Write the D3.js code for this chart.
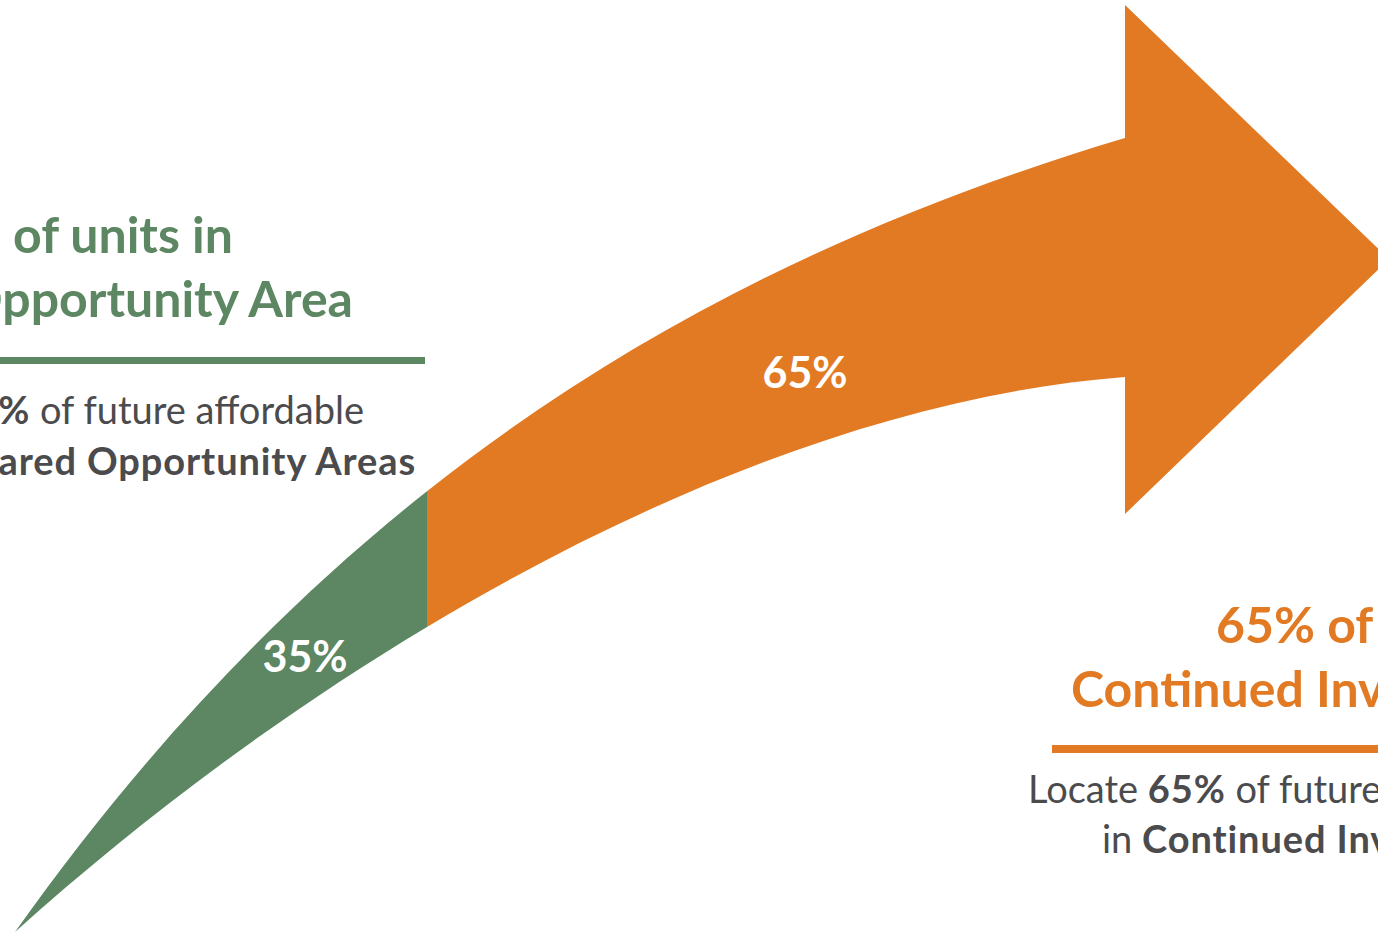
<!DOCTYPE html>
<html>
<head>
<meta charset="utf-8">
<script src="https://cdn.jsdelivr.net/npm/d3@7"></script>
<style>
  html, body { margin: 0; padding: 0; background: #ffffff; overflow: hidden; }
  svg { display: block; }
  text { font-family: Lato, "Open Sans", sans-serif; }
</style>
</head>
<body>
<svg id="chart" width="1378" height="934"></svg>
<script>
// ---- data ----
const categories = ["Shared Opportunity Area", "Continued Investment Area"];
const shares = [35, 65];
const shareLabels = ["35%", "65%"];
const titleLine1 = ["35% of units in", "65% of units in"];
const bodyBold2 = ["Shared Opportunity Areas", "Continued Investment Areas"];
const colors = ["#5C8762", "#E27A24"];

// ---- shape geometry (decorative arrow outline, cubic Bezier edges) ----
const topEdge = [[15,932],[330,488],[700,265],[1125,138]];
const bottomEdge = [[15,932],[340,640],[760,405],[1125,377]];
const head = { baseX: 1125, top: 5, bottom: 514, tipX: 1389, tipY: 259 };

const svg = d3.select("#chart");
const W = 1378, H = 934;

// cumulative share -> position along the arrow (split point)
const xShare = d3.scaleLinear().domain([0, shares[0], 100]).range([15, 427, head.tipX]);
const splitX = xShare(shares[0]);

const p = d3.path();
p.moveTo(...topEdge[0]);
p.bezierCurveTo(...topEdge[1], ...topEdge[2], ...topEdge[3]);
p.lineTo(head.baseX, head.top);
p.lineTo(head.tipX, head.tipY);
p.lineTo(head.baseX, head.bottom);
p.lineTo(...bottomEdge[3]);
p.bezierCurveTo(...bottomEdge[2], ...bottomEdge[1], ...bottomEdge[0]);
p.closePath();
const arrowD = p.toString();

const defs = svg.append("defs");
defs.append("clipPath").attr("id", "clipA").append("rect")
  .attr("x", 0).attr("y", 0).attr("width", splitX).attr("height", H);
defs.append("clipPath").attr("id", "clipB").append("rect")
  .attr("x", splitX).attr("y", 0).attr("width", W - splitX + 50).attr("height", H);

svg.append("path").attr("d", arrowD).attr("fill", colors[1]).attr("clip-path", "url(#clipB)");
svg.append("path").attr("d", arrowD).attr("fill", colors[0]).attr("clip-path", "url(#clipA)");

// share labels on the arrow
const labelPos = [[305, 672], [805, 388]];
svg.selectAll("text.share").data(shareLabels).join("text")
  .attr("class", "share")
  .attr("x", (d, i) => labelPos[i][0])
  .attr("y", (d, i) => labelPos[i][1])
  .attr("text-anchor", "middle")
  .attr("fill", "#ffffff")
  .attr("font-weight", 700)
  .attr("font-size", 43)
  .text(d => d);

const gray = "#4B4B4D";
const bodySize = 38, boldSpacing = 0.9, titleSize = 50;

// ---- left block (Shared Opportunity) ----
const L = svg.append("g");
L.append("text").attr("x", 233).attr("y", 253).attr("text-anchor", "end")
  .attr("fill", colors[0]).attr("font-weight", 700).attr("font-size", titleSize).text(titleLine1[0]);
L.append("text").attr("x", 353).attr("y", 317).attr("text-anchor", "end")
  .attr("fill", colors[0]).attr("font-weight", 700).attr("font-size", titleSize).text(categories[0]);
L.append("line").attr("x1", -5).attr("x2", 425).attr("y1", 360.5).attr("y2", 360.5)
  .attr("stroke", colors[0]).attr("stroke-width", 7);
const lb1 = L.append("text").attr("x", 364).attr("y", 424).attr("text-anchor", "end")
  .attr("fill", gray).attr("font-size", bodySize);
lb1.append("tspan").text("Locate ");
lb1.append("tspan").attr("font-weight", 700).attr("letter-spacing", boldSpacing).text(shareLabels[0]);
lb1.append("tspan").text(" of future affordable");
const lb2 = L.append("text").attr("x", 416).attr("y", 475).attr("text-anchor", "end")
  .attr("fill", gray).attr("font-size", bodySize);
lb2.append("tspan").text("in ");
lb2.append("tspan").attr("font-weight", 700).attr("letter-spacing", boldSpacing).text(bodyBold2[0]);

// ---- right block (Continued Investment) ----
const R = svg.append("g");
R.append("text").attr("x", 1216).attr("y", 643).attr("text-anchor", "start")
  .attr("fill", colors[1]).attr("font-weight", 700).attr("font-size", titleSize).text(titleLine1[1]);
R.append("text").attr("x", 1071).attr("y", 707).attr("text-anchor", "start")
  .attr("fill", colors[1]).attr("font-weight", 700).attr("font-size", titleSize).text(categories[1]);
R.append("line").attr("x1", 1052).attr("x2", 1400).attr("y1", 749).attr("y2", 749)
  .attr("stroke", colors[1]).attr("stroke-width", 8);
const rb1 = R.append("text").attr("x", 1028).attr("y", 803).attr("text-anchor", "start")
  .attr("fill", gray).attr("font-size", bodySize);
rb1.append("tspan").text("Locate ");
rb1.append("tspan").attr("font-weight", 700).attr("letter-spacing", boldSpacing).text(shareLabels[1]);
rb1.append("tspan").text(" of future affordable");
const rb2 = R.append("text").attr("x", 1102).attr("y", 853).attr("text-anchor", "start")
  .attr("fill", gray).attr("font-size", bodySize);
rb2.append("tspan").text("in ");
rb2.append("tspan").attr("font-weight", 700).attr("letter-spacing", boldSpacing).text(bodyBold2[1]);
</script>
</body>
</html>
